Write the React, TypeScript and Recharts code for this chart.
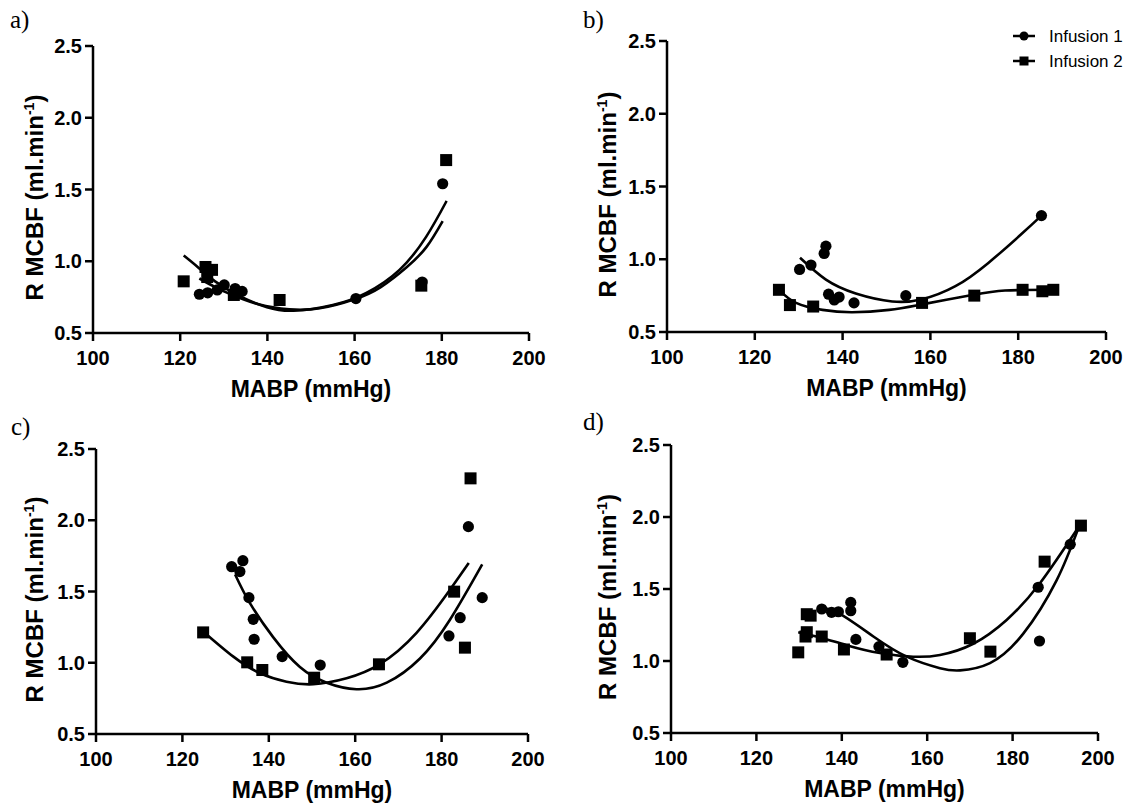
import React from 'react';
import { ComposedChart, Scatter, Line, XAxis, YAxis } from 'recharts';

type P = [number, number];

const X_TICKS = [100, 120, 140, 160, 180, 200];
const Y_TICKS = [0.5, 1.0, 1.5, 2.0, 2.5];
const SERIES_NAMES = ['Infusion 1', 'Infusion 2'];
const PANEL_LABELS = ['a)', 'b)', 'c)', 'd)'];
const X_TITLE = 'MABP (mmHg)';

// Panel a
const aInf1: P[] = [[124.4, 0.77], [126.3, 0.78], [128.5, 0.8], [130.1, 0.835], [132.6, 0.81], [134.2, 0.79], [160.3, 0.74], [175.5, 0.855], [180.2, 1.54]];
const aInf2: P[] = [[120.8, 0.86], [125.8, 0.96], [127.3, 0.94], [126.2, 0.89], [132.3, 0.765], [142.8, 0.73], [175.3, 0.83], [181, 1.705]];
const aFit1: P[] = [[124.4, 0.88], [128, 0.82], [132, 0.765], [138, 0.7], [145, 0.665], [152, 0.672], [160, 0.735], [166, 0.82], [172, 0.96], [176.5, 1.1], [180.2, 1.28]];
const aFit2: P[] = [[120.8, 1.04], [124, 0.96], [128, 0.86], [133.8, 0.755], [139.9, 0.68], [146, 0.655], [155, 0.695], [162.7, 0.78], [170.3, 0.94], [176.4, 1.17], [181.1, 1.42]];

// Panel b
const bInf1: P[] = [[130.2, 0.93], [132.8, 0.96], [135.8, 1.04], [136.2, 1.09], [136.8, 0.76], [138.1, 0.72], [139.2, 0.74], [142.6, 0.7], [154.4, 0.75], [185.3, 1.3]];
const bInf2: P[] = [[125.5, 0.79], [128.0, 0.685], [133.3, 0.675], [158.1, 0.7], [170, 0.75], [181, 0.79], [185.5, 0.78], [188, 0.79]];
const bFit1: P[] = [[130.3, 1.01], [136.2, 0.86], [143, 0.765], [151.3, 0.71], [158.1, 0.725], [165.7, 0.815], [173.2, 0.975], [180.8, 1.175], [185.3, 1.3]];
const bFit2: P[] = [[125.5, 0.79], [129.4, 0.7], [135.4, 0.652], [142.2, 0.636], [150.6, 0.652], [158.1, 0.69], [169.5, 0.754], [177, 0.785], [188, 0.79]];

// Panel c
const cInf1: P[] = [[131.4, 1.674], [134.0, 1.716], [133.3, 1.64], [135.4, 1.457], [136.4, 1.305], [136.6, 1.165], [143.1, 1.043], [151.9, 0.984], [186.2, 1.955], [189.4, 1.457], [184.3, 1.316], [181.7, 1.188]];
const cInf2: P[] = [[124.8, 1.213], [135.0, 1.003], [138.5, 0.949], [150.5, 0.895], [165.5, 0.989], [182.9, 1.499], [186.7, 2.294], [185.4, 1.106]];
const cFit1: P[] = [[132.2, 1.62], [135.6, 1.42], [141, 1.18], [147.2, 0.97], [153.4, 0.86], [160.3, 0.814], [167.3, 0.86], [175, 1.03], [181.9, 1.3], [189.4, 1.69]];
const cFit2: P[] = [[124.8, 1.22], [131.8, 1.043], [138, 0.926], [144.1, 0.867], [150.3, 0.849], [158, 0.891], [165.7, 0.99], [174.2, 1.21], [181.9, 1.51], [186.3, 1.7]];

// Panel d
const dInf1: P[] = [[135.3, 1.361], [137.6, 1.338], [139.2, 1.342], [142.1, 1.407], [142.1, 1.349], [143.3, 1.15], [148.7, 1.1], [154.3, 0.991], [186.0, 1.512], [186.3, 1.139], [193.5, 1.81]];
const dInf2: P[] = [[129.8, 1.06], [131.5, 1.17], [131.8, 1.2], [131.8, 1.325], [132.7, 1.315], [135.3, 1.17], [140.5, 1.08], [150.5, 1.045], [170, 1.158], [174.8, 1.065], [187.5, 1.69], [196, 1.94]];
const dFit1: P[] = [[135.3, 1.37], [139.4, 1.33], [147.4, 1.17], [155.2, 1.03], [163, 0.95], [167.7, 0.935], [174.7, 0.985], [182.5, 1.19], [190.3, 1.56], [195.5, 1.93]];
const dFit2: P[] = [[129.8, 1.2], [135.3, 1.16], [141.1, 1.11], [148.9, 1.055], [156.7, 1.03], [163, 1.042], [170.8, 1.12], [178.6, 1.285], [186.4, 1.54], [196, 1.955]];

const pts = (a: P[]) => a.map(([x, y]) => ({ x, y }));

const FONT = "'Liberation Sans', Arial, sans-serif";

const CircleDot = (p: any) => <circle cx={p.cx} cy={p.cy} r={5.6} fill="#000" />;
const SquareDot = (p: any) => <rect x={p.cx - 6} y={p.cy - 6} width={12} height={12} fill="#000" />;

const XTitle = ({ px, py }: { px: number; py: number; viewBox?: any }) => (
  <text x={px} y={py} textAnchor="middle" fontSize={23} fontWeight={700} fontFamily={FONT} fill="#000">
    {X_TITLE}
  </text>
);

const YTitle = ({ px, py }: { px: number; py: number; viewBox?: any }) => (
  <text x={px} y={py} transform={`rotate(-90 ${px} ${py})`} textAnchor="middle" fontSize={24} fontWeight={700} fontFamily={FONT} fill="#000">
    R MCBF (ml.min<tspan dy={-9} fontSize={14}>-1</tspan>
    <tspan dy={9}>)</tspan>
  </text>
);

type PanelProps = {
  left: number; top: number; width: number; height: number;
  plotL: number; plotR: number; plotT: number; plotB: number; // page coordinates
  yTitleX: number;
  inf1: P[]; inf2: P[]; fit1: P[]; fit2: P[];
};

const Panel = (pp: PanelProps) => {
  const { left, top, width, height, plotL, plotR, plotT, plotB, yTitleX } = pp;
  const xAxisH = 30;
  const margin = {
    top: plotT - top,
    right: left + width - plotR,
    bottom: top + height - plotB - xAxisH,
    left: 0,
  };
  const yAxisW = plotL - left;
  const cx = (plotL + plotR) / 2 - left;
  const xtY = plotB - top + 64;
  const ytX = yTitleX - left;
  const ytY = (plotT + plotB) / 2 - top + 8;
  const axisLine = { stroke: '#000', strokeWidth: 2.5 };
  const tick = { fill: '#000', fontSize: 20, fontWeight: 700, fontFamily: FONT };
  return (
    <div style={{ position: 'absolute', left, top, width, height }}>
      <ComposedChart width={width} height={height} margin={margin}>
        <XAxis
          type="number" dataKey="x" domain={[100, 200]} ticks={X_TICKS} interval={0}
          allowDataOverflow height={xAxisH} axisLine={axisLine} tickLine={axisLine}
          tickSize={8} tickMargin={10} tick={tick}
          label={<XTitle px={cx} py={xtY} />}
        />
        <YAxis
          type="number" dataKey="y" domain={[0.5, 2.5]} ticks={Y_TICKS} interval={0}
          allowDataOverflow width={yAxisW} axisLine={axisLine} tickLine={axisLine}
          tickSize={8} tickMargin={3} tick={tick}
          tickFormatter={(v: number) => v.toFixed(1)}
          label={<YTitle px={ytX} py={ytY} />}
        />
        <Line data={pts(pp.fit1)} dataKey="y" type="natural" stroke="#000" strokeWidth={2.6} dot={false} activeDot={false} isAnimationActive={false} />
        <Line data={pts(pp.fit2)} dataKey="y" type="natural" stroke="#000" strokeWidth={2.6} dot={false} activeDot={false} isAnimationActive={false} />
        <Scatter name={SERIES_NAMES[0]} data={pts(pp.inf1)} dataKey="y" shape={CircleDot} isAnimationActive={false} />
        <Scatter name={SERIES_NAMES[1]} data={pts(pp.inf2)} dataKey="y" shape={SquareDot} isAnimationActive={false} />
      </ComposedChart>
    </div>
  );
};

const Overlay = () => (
  <svg width={1134} height={807} style={{ position: 'absolute', left: 0, top: 0, pointerEvents: 'none' }}>
    <g fontFamily="'Liberation Serif', 'Times New Roman', serif" fontSize={25} fill="#000">
      <text x={10} y={28}>{PANEL_LABELS[0]}</text>
      <text x={583} y={28}>{PANEL_LABELS[1]}</text>
      <text x={11} y={435}>{PANEL_LABELS[2]}</text>
      <text x={583} y={430}>{PANEL_LABELS[3]}</text>
    </g>
    <g>
      <line x1={1013} x2={1035} y1={36} y2={36} stroke="#000" strokeWidth={2.5} />
      <circle cx={1024} cy={36} r={4.5} fill="#000" />
      <text x={1049} y={42} fontFamily={FONT} fontSize={17} fill="#000">{SERIES_NAMES[0]}</text>
      <line x1={1013} x2={1035} y1={61} y2={61} stroke="#000" strokeWidth={2.5} />
      <rect x={1019.5} y={56.5} width={9} height={9} fill="#000" />
      <text x={1049} y={67} fontFamily={FONT} fontSize={17} fill="#000">{SERIES_NAMES[1]}</text>
    </g>
  </svg>
);

export default function App() {
  return (
    <div style={{ position: 'absolute', left: 0, top: 0, width: 1134, height: 807, background: '#fff', overflow: 'hidden' }}>
      <Panel left={0} top={0} width={567} height={405} plotL={93} plotR={529} plotT={46} plotB={333} yTitleX={43}
        inf1={aInf1} inf2={aInf2} fit1={aFit1} fit2={aFit2} />
      <Panel left={567} top={0} width={567} height={405} plotL={667} plotR={1106} plotT={41} plotB={332} yTitleX={616}
        inf1={bInf1} inf2={bInf2} fit1={bFit1} fit2={bFit2} />
      <Panel left={0} top={405} width={567} height={402} plotL={96} plotR={528} plotT={449} plotB={734} yTitleX={43}
        inf1={cInf1} inf2={cInf2} fit1={cFit1} fit2={cFit2} />
      <Panel left={567} top={405} width={567} height={402} plotL={671} plotR={1098} plotT={445} plotB={733} yTitleX={616}
        inf1={dInf1} inf2={dInf2} fit1={dFit1} fit2={dFit2} />
      <Overlay />
    </div>
  );
}
